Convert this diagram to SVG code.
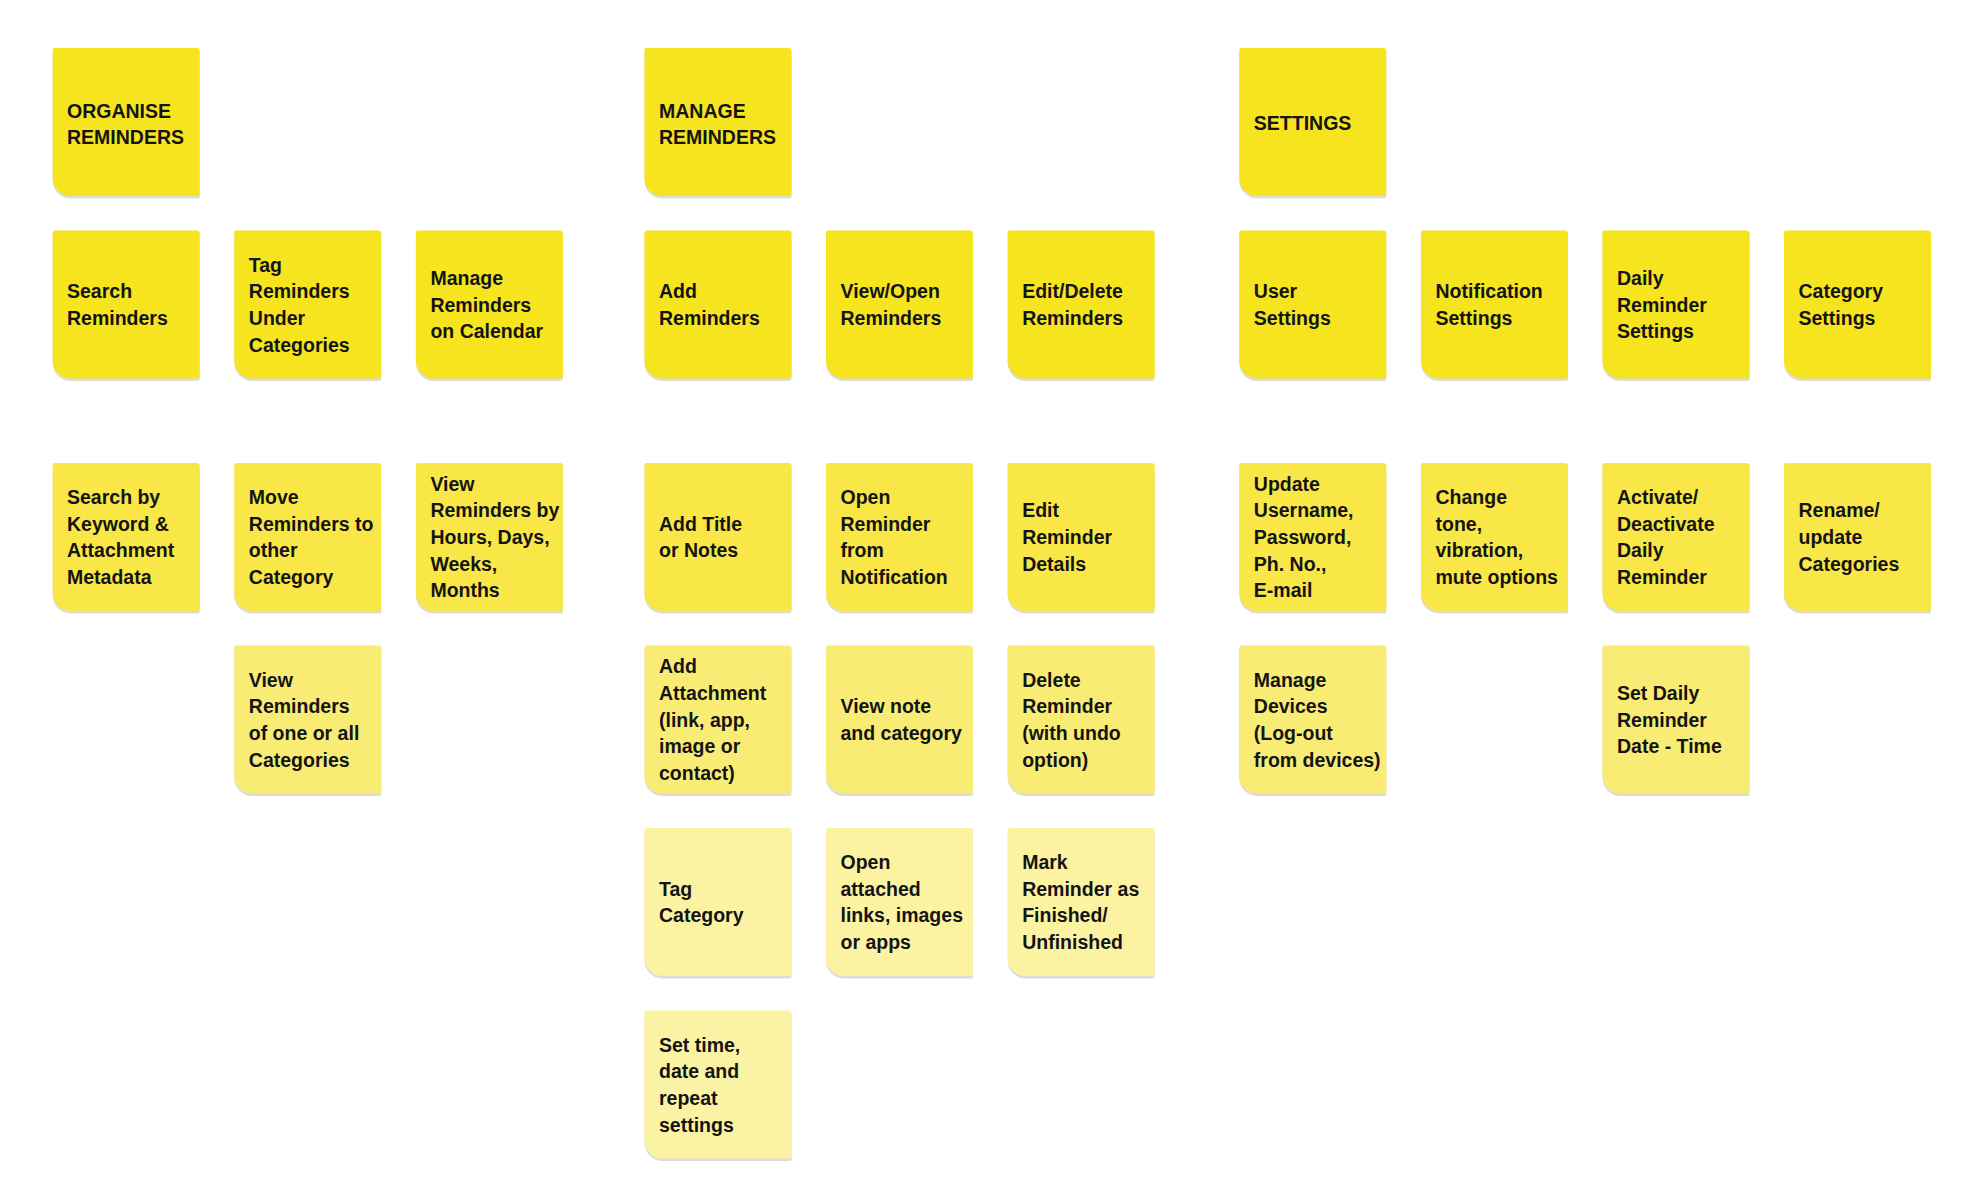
<svg xmlns="http://www.w3.org/2000/svg" xmlns:xlink="http://www.w3.org/1999/xlink" width="1984" height="1202" viewBox="0 0 1984 1202">
<style>
.r1{fill:#F6E41F}
.r2{fill:#F6E41F}
.r3{fill:#F8E746}
.r4{fill:#F9EC74}
.r5{fill:#FBF3A2}
.r6{fill:#FBF3A4}
.sh{fill:#A8A8A0;opacity:0.4}
text{font-family:"Liberation Sans",Arial,sans-serif;font-weight:bold;font-size:19.5px;fill:#141414}
</style>
<defs>
<path id="card" d="M2,0 H144 Q147,0 147,3 V146 Q147,148 145,148 H18 A18,18 0 0 1 0,130 V2 Q0,0 2,0 Z"/>
</defs>
<rect width="1984" height="1202" fill="#ffffff"/>
<g id="connectors"/>

<!-- ORGANISE group -->
<g id="organise-reminders"><use href="#card" x="52.7" y="50.5" class="sh"/><use href="#card" x="52.7" y="48" class="r1"/>
<text x="67" y="117.6"><tspan x="67">ORGANISE</tspan><tspan x="67" dy="26.7">REMINDERS</tspan></text></g>

<g id="search-reminders"><use href="#card" x="52.7" y="233" class="sh"/><use href="#card" x="52.7" y="230.5" class="r2"/>
<text x="67" y="298.2"><tspan x="67">Search</tspan><tspan x="67" dy="26.7">Reminders</tspan></text></g>

<g id="tag-reminders"><use href="#card" x="234.3" y="233" class="sh"/><use href="#card" x="234.3" y="230.5" class="r2"/>
<text x="248.8" y="271.5"><tspan x="248.8">Tag</tspan><tspan x="248.8" dy="26.7">Reminders</tspan><tspan x="248.8" dy="26.7">Under</tspan><tspan x="248.8" dy="26.7">Categories</tspan></text></g>

<g id="manage-calendar"><use href="#card" x="415.9" y="233" class="sh"/><use href="#card" x="415.9" y="230.5" class="r2"/>
<text x="430.4" y="284.8"><tspan x="430.4">Manage</tspan><tspan x="430.4" dy="26.7">Reminders</tspan><tspan x="430.4" dy="26.7">on Calendar</tspan></text></g>

<g id="search-keyword"><use href="#card" x="52.7" y="465.5" class="sh"/><use href="#card" x="52.7" y="463" class="r3"/>
<text x="67" y="504"><tspan x="67">Search by</tspan><tspan x="67" dy="26.7">Keyword &amp;</tspan><tspan x="67" dy="26.7">Attachment</tspan><tspan x="67" dy="26.7">Metadata</tspan></text></g>

<g id="move-reminders"><use href="#card" x="234.3" y="465.5" class="sh"/><use href="#card" x="234.3" y="463" class="r3"/>
<text x="248.8" y="504"><tspan x="248.8">Move</tspan><tspan x="248.8" dy="26.7">Reminders to</tspan><tspan x="248.8" dy="26.7">other</tspan><tspan x="248.8" dy="26.7">Category</tspan></text></g>

<g id="view-by-hours"><use href="#card" x="415.9" y="465.5" class="sh"/><use href="#card" x="415.9" y="463" class="r3"/>
<text x="430.4" y="490.6"><tspan x="430.4">View</tspan><tspan x="430.4" dy="26.7">Reminders by</tspan><tspan x="430.4" dy="26.7">Hours, Days,</tspan><tspan x="430.4" dy="26.7">Weeks,</tspan><tspan x="430.4" dy="26.7">Months</tspan></text></g>

<g id="view-categories"><use href="#card" x="234.3" y="648" class="sh"/><use href="#card" x="234.3" y="645.5" class="r4"/>
<text x="248.8" y="686.5"><tspan x="248.8">View</tspan><tspan x="248.8" dy="26.7">Reminders</tspan><tspan x="248.8" dy="26.7">of one or all</tspan><tspan x="248.8" dy="26.7">Categories</tspan></text></g>

<!-- MANAGE group -->
<g id="manage-reminders"><use href="#card" x="644.5" y="50.5" class="sh"/><use href="#card" x="644.5" y="48" class="r1"/>
<text x="659" y="117.6"><tspan x="659">MANAGE</tspan><tspan x="659" dy="26.7">REMINDERS</tspan></text></g>

<g id="add-reminders"><use href="#card" x="644.5" y="233" class="sh"/><use href="#card" x="644.5" y="230.5" class="r2"/>
<text x="659" y="298.2"><tspan x="659">Add</tspan><tspan x="659" dy="26.7">Reminders</tspan></text></g>

<g id="view-open-reminders"><use href="#card" x="826" y="233" class="sh"/><use href="#card" x="826" y="230.5" class="r2"/>
<text x="840.5" y="298.2"><tspan x="840.5">View/Open</tspan><tspan x="840.5" dy="26.7">Reminders</tspan></text></g>

<g id="edit-delete-reminders"><use href="#card" x="1007.7" y="233" class="sh"/><use href="#card" x="1007.7" y="230.5" class="r2"/>
<text x="1022.2" y="298.2"><tspan x="1022.2">Edit/Delete</tspan><tspan x="1022.2" dy="26.7">Reminders</tspan></text></g>

<g id="add-title"><use href="#card" x="644.5" y="465.5" class="sh"/><use href="#card" x="644.5" y="463" class="r3"/>
<text x="659" y="530.7"><tspan x="659">Add Title</tspan><tspan x="659" dy="26.7">or Notes</tspan></text></g>

<g id="open-from-notification"><use href="#card" x="826" y="465.5" class="sh"/><use href="#card" x="826" y="463" class="r3"/>
<text x="840.5" y="504"><tspan x="840.5">Open</tspan><tspan x="840.5" dy="26.7">Reminder</tspan><tspan x="840.5" dy="26.7">from</tspan><tspan x="840.5" dy="26.7">Notification</tspan></text></g>

<g id="edit-details"><use href="#card" x="1007.7" y="465.5" class="sh"/><use href="#card" x="1007.7" y="463" class="r3"/>
<text x="1022.2" y="517.3"><tspan x="1022.2">Edit</tspan><tspan x="1022.2" dy="26.7">Reminder</tspan><tspan x="1022.2" dy="26.7">Details</tspan></text></g>

<g id="add-attachment"><use href="#card" x="644.5" y="648" class="sh"/><use href="#card" x="644.5" y="645.5" class="r4"/>
<text x="659" y="673.1"><tspan x="659">Add</tspan><tspan x="659" dy="26.7">Attachment</tspan><tspan x="659" dy="26.7">(link, app,</tspan><tspan x="659" dy="26.7">image or</tspan><tspan x="659" dy="26.7">contact)</tspan></text></g>

<g id="view-note"><use href="#card" x="826" y="648" class="sh"/><use href="#card" x="826" y="645.5" class="r4"/>
<text x="840.5" y="713.2"><tspan x="840.5">View note</tspan><tspan x="840.5" dy="26.7">and category</tspan></text></g>

<g id="delete-reminder"><use href="#card" x="1007.7" y="648" class="sh"/><use href="#card" x="1007.7" y="645.5" class="r4"/>
<text x="1022.2" y="686.5"><tspan x="1022.2">Delete</tspan><tspan x="1022.2" dy="26.7">Reminder</tspan><tspan x="1022.2" dy="26.7">(with undo</tspan><tspan x="1022.2" dy="26.7">option)</tspan></text></g>

<g id="tag-category"><use href="#card" x="644.5" y="830.5" class="sh"/><use href="#card" x="644.5" y="828" class="r5"/>
<text x="659" y="895.7"><tspan x="659">Tag</tspan><tspan x="659" dy="26.7">Category</tspan></text></g>

<g id="open-attached"><use href="#card" x="826" y="830.5" class="sh"/><use href="#card" x="826" y="828" class="r5"/>
<text x="840.5" y="869"><tspan x="840.5">Open</tspan><tspan x="840.5" dy="26.7">attached</tspan><tspan x="840.5" dy="26.7">links, images</tspan><tspan x="840.5" dy="26.7">or apps</tspan></text></g>

<g id="mark-finished"><use href="#card" x="1007.7" y="830.5" class="sh"/><use href="#card" x="1007.7" y="828" class="r5"/>
<text x="1022.2" y="869"><tspan x="1022.2">Mark</tspan><tspan x="1022.2" dy="26.7">Reminder as</tspan><tspan x="1022.2" dy="26.7">Finished/</tspan><tspan x="1022.2" dy="26.7">Unfinished</tspan></text></g>

<g id="set-time"><use href="#card" x="644.5" y="1013" class="sh"/><use href="#card" x="644.5" y="1010.5" class="r6"/>
<text x="659" y="1051.5"><tspan x="659">Set time,</tspan><tspan x="659" dy="26.7">date and</tspan><tspan x="659" dy="26.7">repeat</tspan><tspan x="659" dy="26.7">settings</tspan></text></g>

<!-- SETTINGS group -->
<g id="settings"><use href="#card" x="1239.3" y="50.5" class="sh"/><use href="#card" x="1239.3" y="48" class="r1"/>
<text x="1253.8" y="130">SETTINGS</text></g>

<g id="user-settings"><use href="#card" x="1239.3" y="233" class="sh"/><use href="#card" x="1239.3" y="230.5" class="r2"/>
<text x="1253.8" y="298.2"><tspan x="1253.8">User</tspan><tspan x="1253.8" dy="26.7">Settings</tspan></text></g>

<g id="notification-settings"><use href="#card" x="1421" y="233" class="sh"/><use href="#card" x="1421" y="230.5" class="r2"/>
<text x="1435.5" y="298.2"><tspan x="1435.5">Notification</tspan><tspan x="1435.5" dy="26.7">Settings</tspan></text></g>

<g id="daily-reminder-settings"><use href="#card" x="1602.5" y="233" class="sh"/><use href="#card" x="1602.5" y="230.5" class="r2"/>
<text x="1617" y="284.8"><tspan x="1617">Daily</tspan><tspan x="1617" dy="26.7">Reminder</tspan><tspan x="1617" dy="26.7">Settings</tspan></text></g>

<g id="category-settings"><use href="#card" x="1784" y="233" class="sh"/><use href="#card" x="1784" y="230.5" class="r2"/>
<text x="1798.5" y="298.2"><tspan x="1798.5">Category</tspan><tspan x="1798.5" dy="26.7">Settings</tspan></text></g>

<g id="update-user"><use href="#card" x="1239.3" y="465.5" class="sh"/><use href="#card" x="1239.3" y="463" class="r3"/>
<text x="1253.8" y="490.6"><tspan x="1253.8">Update</tspan><tspan x="1253.8" dy="26.7">Username,</tspan><tspan x="1253.8" dy="26.7">Password,</tspan><tspan x="1253.8" dy="26.7">Ph. No.,</tspan><tspan x="1253.8" dy="26.7">E-mail</tspan></text></g>

<g id="change-tone"><use href="#card" x="1421" y="465.5" class="sh"/><use href="#card" x="1421" y="463" class="r3"/>
<text x="1435.5" y="504"><tspan x="1435.5">Change</tspan><tspan x="1435.5" dy="26.7">tone,</tspan><tspan x="1435.5" dy="26.7">vibration,</tspan><tspan x="1435.5" dy="26.7">mute options</tspan></text></g>

<g id="activate-daily"><use href="#card" x="1602.5" y="465.5" class="sh"/><use href="#card" x="1602.5" y="463" class="r3"/>
<text x="1617" y="504"><tspan x="1617">Activate/</tspan><tspan x="1617" dy="26.7">Deactivate</tspan><tspan x="1617" dy="26.7">Daily</tspan><tspan x="1617" dy="26.7">Reminder</tspan></text></g>

<g id="rename-categories"><use href="#card" x="1784" y="465.5" class="sh"/><use href="#card" x="1784" y="463" class="r3"/>
<text x="1798.5" y="517.3"><tspan x="1798.5">Rename/</tspan><tspan x="1798.5" dy="26.7">update</tspan><tspan x="1798.5" dy="26.7">Categories</tspan></text></g>

<g id="manage-devices"><use href="#card" x="1239.3" y="648" class="sh"/><use href="#card" x="1239.3" y="645.5" class="r4"/>
<text x="1253.8" y="686.5"><tspan x="1253.8">Manage</tspan><tspan x="1253.8" dy="26.7">Devices</tspan><tspan x="1253.8" dy="26.7">(Log-out</tspan><tspan x="1253.8" dy="26.7">from devices)</tspan></text></g>

<g id="set-daily"><use href="#card" x="1602.5" y="648" class="sh"/><use href="#card" x="1602.5" y="645.5" class="r4"/>
<text x="1617" y="699.8"><tspan x="1617">Set Daily</tspan><tspan x="1617" dy="26.7">Reminder</tspan><tspan x="1617" dy="26.7">Date - Time</tspan></text></g>
</svg>
